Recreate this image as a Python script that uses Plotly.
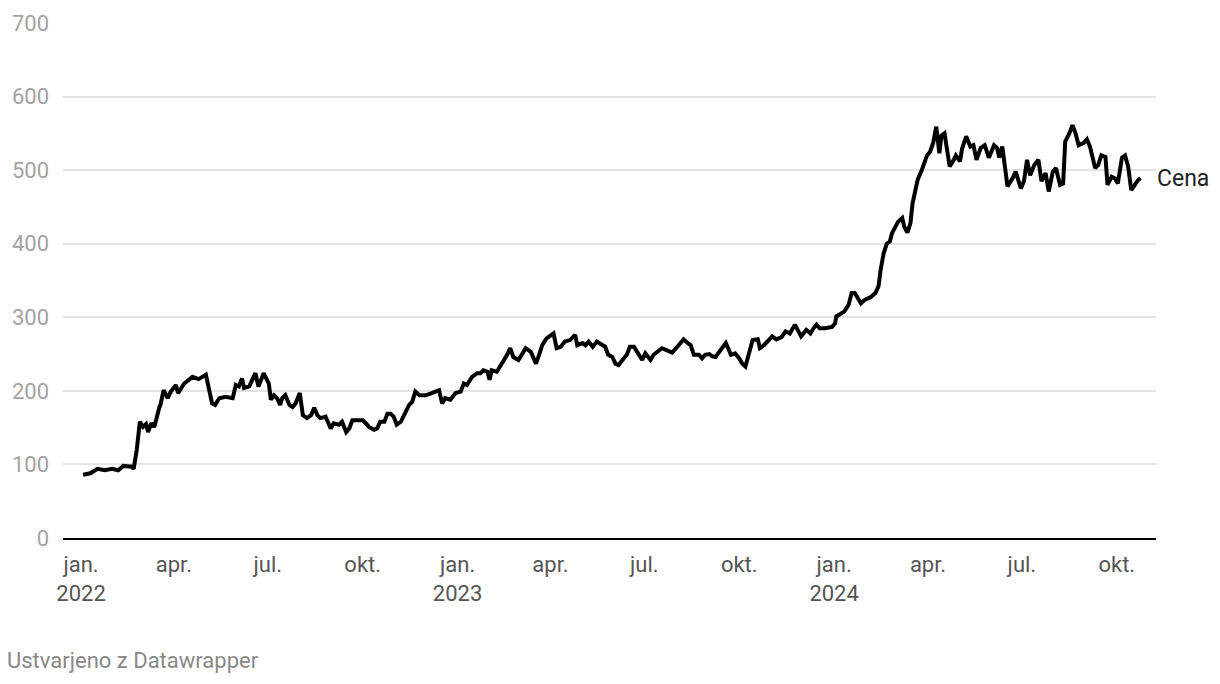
import plotly.graph_objects as go

dates = [
    "2022-01-03", "2022-01-10", "2022-01-17", "2022-01-24", "2022-01-31", "2022-02-06", "2022-02-11",
    "2022-02-19", "2022-02-21", "2022-02-24", "2022-02-27", "2022-03-02", "2022-03-05", "2022-03-07",
    "2022-03-10", "2022-03-13", "2022-03-18", "2022-03-19", "2022-03-22", "2022-03-26", "2022-03-29",
    "2022-04-03", "2022-04-05", "2022-04-11", "2022-04-19", "2022-04-25", "2022-05-02", "2022-05-04",
    "2022-05-08", "2022-05-11", "2022-05-15", "2022-05-21", "2022-05-28", "2022-05-31", "2022-06-03",
    "2022-06-06", "2022-06-08", "2022-06-13", "2022-06-19", "2022-06-22", "2022-06-27", "2022-07-02",
    "2022-07-04", "2022-07-07", "2022-07-10", "2022-07-13", "2022-07-15", "2022-07-18", "2022-07-22",
    "2022-07-25", "2022-07-28", "2022-08-01", "2022-08-04", "2022-08-08", "2022-08-12", "2022-08-15",
    "2022-08-18", "2022-08-21", "2022-08-26", "2022-08-31", "2022-09-03", "2022-09-08", "2022-09-11",
    "2022-09-15", "2022-09-18", "2022-09-21", "2022-09-26", "2022-10-01", "2022-10-04", "2022-10-07",
    "2022-10-12", "2022-10-15", "2022-10-18", "2022-10-22", "2022-10-25", "2022-10-28", "2022-10-31",
    "2022-11-03", "2022-11-07", "2022-11-12", "2022-11-15", "2022-11-18", "2022-11-21", "2022-11-25",
    "2022-12-01", "2022-12-07", "2022-12-14", "2022-12-17", "2022-12-20", "2022-12-25", "2022-12-30",
    "2023-01-04", "2023-01-07", "2023-01-10", "2023-01-12", "2023-01-15", "2023-01-20", "2023-01-23",
    "2023-01-26", "2023-01-30", "2023-02-01", "2023-02-03", "2023-02-08", "2023-02-13", "2023-02-18",
    "2023-02-21", "2023-02-24", "2023-03-01", "2023-03-05", "2023-03-08", "2023-03-13", "2023-03-16",
    "2023-03-18", "2023-03-21", "2023-03-24", "2023-03-28", "2023-03-31", "2023-04-04", "2023-04-07",
    "2023-04-11", "2023-04-15", "2023-04-20", "2023-04-25", "2023-04-27", "2023-05-02", "2023-05-05",
    "2023-05-08", "2023-05-12", "2023-05-16", "2023-05-21", "2023-05-24", "2023-05-27", "2023-05-31",
    "2023-06-03", "2023-06-06", "2023-06-11", "2023-06-14", "2023-06-17", "2023-06-21", "2023-06-24",
    "2023-06-29", "2023-07-02", "2023-07-07", "2023-07-10", "2023-07-15", "2023-07-18", "2023-07-23",
    "2023-07-28", "2023-08-02", "2023-08-05", "2023-08-08", "2023-08-12", "2023-08-15", "2023-08-18",
    "2023-08-23", "2023-08-26", "2023-08-29", "2023-09-02", "2023-09-05", "2023-09-08", "2023-09-13",
    "2023-09-18", "2023-09-23", "2023-09-27", "2023-10-01", "2023-10-04", "2023-10-07", "2023-10-11",
    "2023-10-14", "2023-10-19", "2023-10-21", "2023-10-25", "2023-10-29", "2023-11-02", "2023-11-06",
    "2023-11-11", "2023-11-15", "2023-11-19", "2023-11-24", "2023-11-27", "2023-11-30", "2023-12-05",
    "2023-12-09", "2023-12-12", "2023-12-15", "2023-12-18", "2023-12-23", "2023-12-30",
    "2024-01-02", "2024-01-03", "2024-01-07", "2024-01-11", "2024-01-15", "2024-01-18", "2024-01-21",
    "2024-01-24", "2024-01-27", "2024-01-31", "2024-02-05", "2024-02-10", "2024-02-13", "2024-02-15",
    "2024-02-18", "2024-02-21", "2024-02-24", "2024-02-26", "2024-02-29", "2024-03-03", "2024-03-07",
    "2024-03-09", "2024-03-12", "2024-03-15", "2024-03-17", "2024-03-20", "2024-03-22", "2024-03-26",
    "2024-03-28", "2024-03-31", "2024-04-03", "2024-04-06", "2024-04-09", "2024-04-12", "2024-04-14",
    "2024-04-17", "2024-04-20", "2024-04-22", "2024-04-26", "2024-04-28", "2024-05-02", "2024-05-04",
    "2024-05-08", "2024-05-12", "2024-05-15", "2024-05-18", "2024-05-22", "2024-05-26", "2024-05-30",
    "2024-06-04", "2024-06-07", "2024-06-09", "2024-06-12", "2024-06-17", "2024-06-22", "2024-06-25",
    "2024-06-30", "2024-07-03", "2024-07-06", "2024-07-09", "2024-07-13", "2024-07-17", "2024-07-20",
    "2024-07-24", "2024-07-27", "2024-07-31", "2024-08-03", "2024-08-07", "2024-08-10", "2024-08-12",
    "2024-08-16", "2024-08-19", "2024-08-22", "2024-08-25", "2024-08-30", "2024-09-02", "2024-09-05",
    "2024-09-10", "2024-09-13", "2024-09-16", "2024-09-20", "2024-09-22", "2024-09-26", "2024-09-29",
    "2024-10-02", "2024-10-06", "2024-10-09", "2024-10-12", "2024-10-15", "2024-10-19", "2024-10-22",
    "2024-10-24",
]

prices = [
    86, 88, 94, 92, 94, 92, 98,
    97, 94, 120, 158, 151, 155, 144,
    156, 151, 178, 181, 201, 190, 199,
    208, 197, 210, 219, 216, 222, 208,
    183, 181, 190, 192, 190, 208, 206,
    217, 204, 206, 224, 206, 224, 210,
    188, 194, 190, 181, 190, 194, 181,
    178, 183, 197, 167, 163, 167, 177,
    167, 163, 165, 149, 156, 154, 158,
    144, 149, 160, 160, 160, 156, 151,
    147, 149, 158, 158, 169, 169, 165,
    154, 158, 174, 181, 185, 199, 194,
    194, 197, 201, 183, 190, 188, 197,
    199, 210, 208, 212, 219, 224, 224,
    228, 226, 215, 228, 226, 237, 249,
    258, 246, 242, 251, 258, 253, 244,
    237, 249, 262, 271, 274, 278, 258,
    260, 267, 269, 276, 262, 265, 262,
    267, 260, 267, 262, 260, 249, 246,
    237, 235, 244, 249, 260, 260, 253,
    242, 251, 242, 249, 255, 258, 255,
    252, 260, 265, 270, 265, 262, 249,
    249, 244, 249, 250, 247, 246, 255,
    265, 249, 251, 244, 237, 233, 253,
    269, 270, 258, 262, 269, 274, 270,
    273, 281, 278, 290, 281, 274, 283,
    278, 285, 290, 285, 285, 287,
    292, 301, 305, 308, 317, 333, 333,
    326, 319, 324, 327, 333, 342, 364,
    387, 400, 403, 414, 421, 430, 435,
    423, 415, 428, 455, 475, 487, 500,
    509, 520, 525, 537, 559, 523, 547,
    550, 523, 505, 514, 520, 512, 529,
    546, 532, 534, 514, 530, 534, 517,
    534, 530, 517, 532, 478, 489, 498,
    475, 485, 514, 493, 507, 514, 485,
    496, 471, 498, 503, 480, 482, 539,
    550, 561, 550, 534, 537, 542, 532,
    503, 507, 520, 518, 480, 491, 489,
    482, 517, 520, 505, 473, 482, 487,
    489,
]

series_name = "Cena"

tick_dates = ["2022-01-01", "2022-04-01", "2022-07-01", "2022-10-01",
              "2023-01-01", "2023-04-01", "2023-07-01", "2023-10-01",
              "2024-01-01", "2024-04-01", "2024-07-01", "2024-10-01"]
tick_text = ["jan.<br>2022", "apr.", "jul.", "okt.",
             "jan.<br>2023", "apr.", "jul.", "okt.",
             "jan.<br>2024", "apr.", "jul.", "okt."]
y_ticks = [0, 100, 200, 300, 400, 500, 600, 700]

footer = "Ustvarjeno z Datawrapper"

fig = go.Figure()
fig.add_trace(go.Scatter(
    x=dates, y=prices, mode="lines", name=series_name,
    line=dict(color="#000000", width=4, shape="linear"),
    hoverinfo="x+y", showlegend=False,
))

fig.update_layout(
    width=1220, height=684,
    margin=dict(l=63, r=64, t=23, b=146),
    paper_bgcolor="white", plot_bgcolor="white",
    font=dict(family="Roboto", size=22, color="#333333"),
    showlegend=False,
)

fig.update_xaxes(
    type="date", range=["2021-12-14 12:00", "2024-11-08"],
    tickmode="array", tickvals=tick_dates, ticktext=tick_text,
    showgrid=False, zeroline=False,
    showline=True, linecolor="#000000", linewidth=2,
    ticks="", tickfont=dict(family="Roboto", size=22, color="#555555"),
    ticklabelstandoff=6,
)

fig.update_yaxes(
    range=[0, 700], tickmode="array", tickvals=y_ticks,
    showgrid=True, gridcolor="#e3e3e3", gridwidth=2,
    zeroline=False, showline=False, ticks="",
    tickfont=dict(family="Roboto", size=22, color="#a3a3a3"),
    ticklabelstandoff=13,
)

fig.add_annotation(
    x=dates[-1], y=prices[-1], xref="x", yref="y",
    text=series_name, showarrow=False, xanchor="left", yanchor="middle",
    xshift=14, font=dict(family="Roboto", size=23, color="#222222"),
)

fig.add_annotation(
    x=-0.053, y=-0.2388, xref="paper", yref="paper",
    text=footer, showarrow=False, xanchor="left", yanchor="middle",
    font=dict(family="Roboto", size=22, color="#888888"),
)

fig.write_html("out.html")
